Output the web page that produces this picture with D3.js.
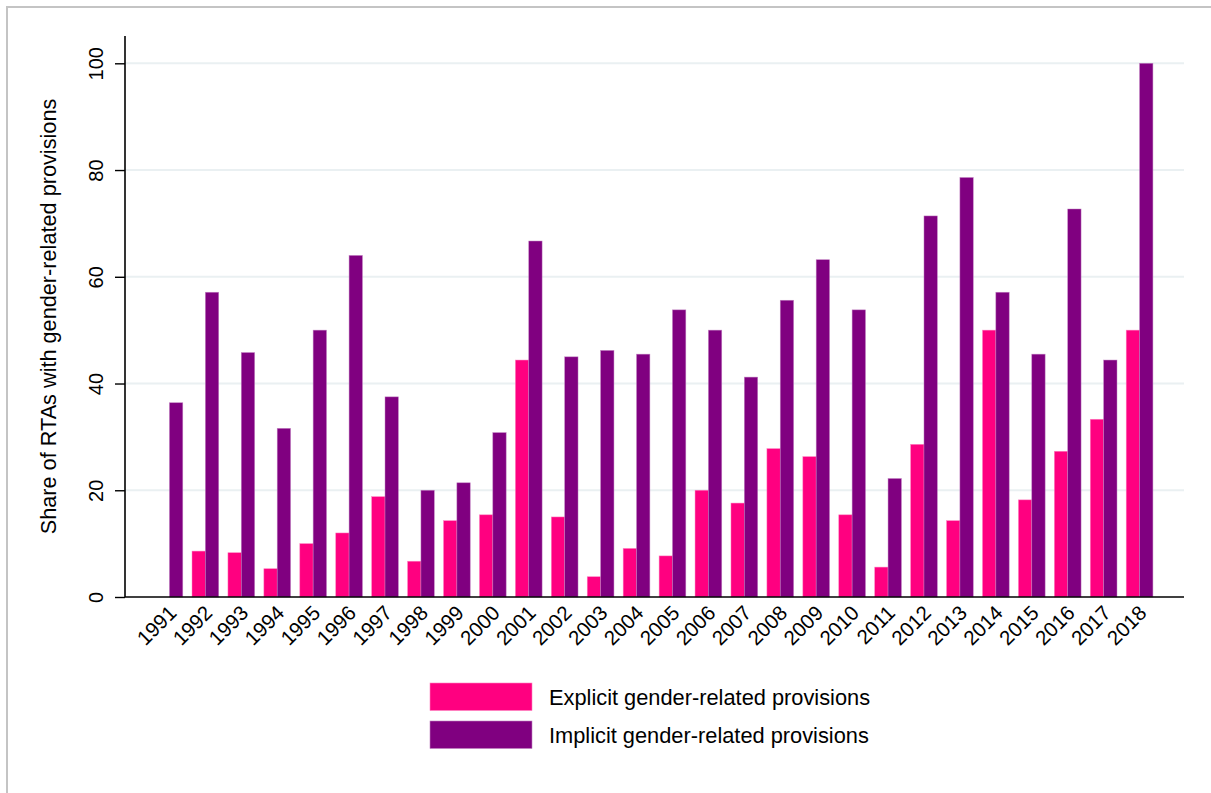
<!DOCTYPE html>
<html>
<head>
<meta charset="utf-8">
<script src="https://cdn.jsdelivr.net/npm/d3@7"></script>
<style>
  html, body { margin: 0; padding: 0; background: #fff; }
  svg { display: block; font-family: "Liberation Sans", Arial, sans-serif; }
</style>
</head>
<body>
<svg id="chart" width="1211" height="793"></svg>
<script>
const years = ["1991","1992","1993","1994","1995","1996","1997","1998","1999","2000",
  "2001","2002","2003","2004","2005","2006","2007","2008","2009","2010",
  "2011","2012","2013","2014","2015","2016","2017","2018"];
const explicitValues = [0, 8.6, 8.3, 5.3, 10.0, 12.0, 18.8, 6.7, 14.3, 15.4,
  44.4, 15.0, 3.8, 9.1, 7.7, 20.0, 17.6, 27.8, 26.3, 15.4,
  5.6, 28.6, 14.3, 50.0, 18.2, 27.3, 33.3, 50.0];
const implicitValues = [36.4, 57.1, 45.8, 31.6, 50.0, 64.0, 37.5, 20.0, 21.4, 30.8,
  66.7, 45.0, 46.2, 45.5, 53.8, 50.0, 41.2, 55.6, 63.2, 53.8,
  22.2, 71.4, 78.6, 57.1, 45.5, 72.7, 44.4, 100.0];
const seriesNames = ["Explicit gender-related provisions", "Implicit gender-related provisions"];
const yTicks = [0, 20, 40, 60, 80, 100];
const yLabel = "Share of RTAs with gender-related provisions";
const colors = ["#ff0080", "#800080"];

const svg = d3.select("#chart");

// outer frame
svg.append("rect").attr("x", 7).attr("y", 7).attr("width", 1300).attr("height", 900)
  .attr("fill", "none").attr("stroke", "#c4c4c4").attr("stroke-width", 2);

const pLeft = 125, pRight = 1184, pTop = 36, pBottom = 597;
const y = d3.scaleLinear().domain([0, 100]).range([pBottom, 63.3]);
const x0 = d3.scaleBand().domain(years).range([pLeft, pRight]).paddingInner(0.257).paddingOuter(0.865);
const x1 = d3.scaleBand().domain([0, 1]).range([0, x0.bandwidth()]);

// grid
svg.append("g").selectAll("line").data(yTicks.filter(d => d > 0)).join("line")
  .attr("x1", pLeft).attr("x2", pRight)
  .attr("y1", d => y(d)).attr("y2", d => y(d))
  .attr("stroke", "#eaf0f2").attr("stroke-width", 2);

// bars
const data = years.map((yr, i) => ({ yr, vals: [explicitValues[i], implicitValues[i]] }));
const groups = svg.append("g").selectAll("g").data(data).join("g")
  .attr("transform", d => `translate(${x0(d.yr)},0)`);
groups.selectAll("rect").data(d => d.vals.map((v, k) => ({ v, k }))).join("rect")
  .attr("x", d => x1(d.k))
  .attr("width", x1.bandwidth())
  .attr("y", d => y(d.v))
  .attr("height", d => pBottom - y(d.v))
  .attr("fill", d => colors[d.k])
  .attr("stroke", d => d.k === 0 ? "#ff80c0" : "#c080c0")
  .attr("stroke-width", 0.6)
  .attr("stroke-opacity", d => d.v > 0 ? 0.8 : 0);

// y axis
const yAxis = svg.append("g").attr("transform", `translate(${pLeft},0)`)
  .call(d3.axisLeft(y).tickValues(yTicks).tickSize(10).tickPadding(0).tickFormat(d3.format("d")));
yAxis.select(".domain").attr("d", `M0,${pTop}V${pBottom}`).attr("stroke", "#000").attr("stroke-width", 1.6);
yAxis.selectAll(".tick line").attr("stroke", "#000").attr("stroke-width", 1.4);
yAxis.selectAll(".tick text")
  .attr("x", 0).attr("y", 0).attr("dy", null)
  .attr("transform", "translate(-29.5,0) rotate(-90)")
  .attr("text-anchor", "middle").attr("dominant-baseline", "central")
  .attr("font-size", 20).attr("font-family", "Liberation Sans, Arial, sans-serif").attr("fill", "#000");

// x axis
const xAxis = svg.append("g").attr("transform", `translate(0,${pBottom})`)
  .call(d3.axisBottom(x0).tickSize(0).tickPadding(0));
xAxis.select(".domain").attr("d", `M${pLeft},0H${pRight}`).attr("stroke", "#000").attr("stroke-width", 1.6);
xAxis.selectAll(".tick text")
  .attr("y", 0).attr("dy", null)
  .attr("transform", "translate(3,12) rotate(-45)")
  .attr("text-anchor", "end").attr("dominant-baseline", "central")
  .attr("font-size", 20.5).attr("font-family", "Liberation Sans, Arial, sans-serif").attr("fill", "#000");

// y label
svg.append("text")
  .attr("transform", `translate(48,${(pTop + pBottom) / 2}) rotate(-90)`)
  .attr("text-anchor", "middle").attr("dominant-baseline", "central")
  .attr("font-size", 21.7).attr("fill", "#000")
  .text(yLabel);

// legend
const legend = svg.append("g");
const legY = [683, 721];
seriesNames.forEach((name, i) => {
  legend.append("rect").attr("x", 430).attr("y", legY[i]).attr("width", 102).attr("height", 27.5)
    .attr("fill", colors[i]).attr("stroke", i === 0 ? "#ff80c0" : "#c080c0").attr("stroke-width", 0.6);
  legend.append("text").attr("x", 549).attr("y", legY[i] + 14)
    .attr("dominant-baseline", "central").attr("font-size", 21.8).attr("fill", "#000")
    .text(name);
});
</script>
</body>
</html>
